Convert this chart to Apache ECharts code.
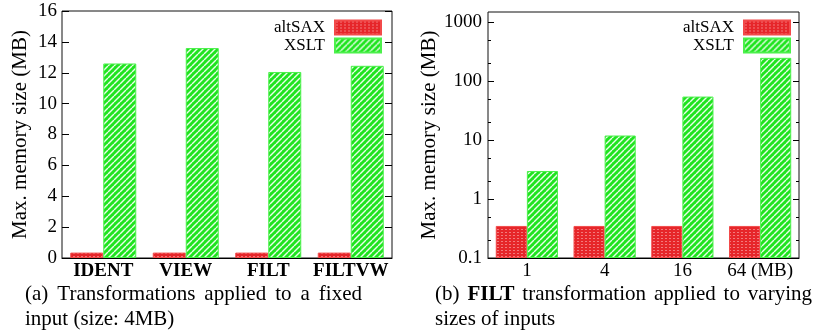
<!DOCTYPE html>
<html>
<head>
<meta charset="utf-8">
<script src="https://cdn.jsdelivr.net/npm/echarts@6/dist/echarts.min.js"></script>
<style>html,body{margin:0;padding:0;background:#fff}#c{width:818px;height:330px}</style>
</head>
<body>
<div id="c"></div>
<script>
// ---- data ----
const seriesNames = ['altSAX', 'XSLT'];
const catsA = ['IDENT', 'VIEW', 'FILT', 'FILTVW'];
const altSaxA = [0.35, 0.35, 0.35, 0.35];
const xsltA = [12.6, 13.6, 12.05, 12.45];
const catsB = ['1', '4', '16', '64 (MB)'];
const altSaxB = [0.35, 0.35, 0.35, 0.35];
const xsltB = [3.0, 12, 55, 250];
const yMajorB = [0.1, 1, 10, 100, 1000];
const yMinorB = [0.2, 0.5, 2, 5, 20, 50, 200, 500];
const yTitle = 'Max. memory size (MB)';

// ---- patterns ----
function stripePattern() {
  const n = 6, c = document.createElement('canvas');
  c.width = n; c.height = n;
  const g = c.getContext('2d');
  g.fillStyle = '#1fe41f'; g.fillRect(0, 0, n, n);
  g.strokeStyle = 'rgba(255,255,255,0.9)'; g.lineWidth = 1.4;
  for (const k of [-n, 0, n]) { g.beginPath(); g.moveTo(k, n); g.lineTo(k + n, 0); g.stroke(); }
  return { image: c, repeat: 'repeat' };
}
function dotPattern() {
  const c = document.createElement('canvas');
  c.width = 4; c.height = 3;
  const g = c.getContext('2d');
  g.fillStyle = '#e6262a'; g.fillRect(0, 0, 4, 3);
  g.fillStyle = '#f27a7c'; g.fillRect(1, 1, 2, 1);
  return { image: c, repeat: 'repeat' };
}
const redFill = dotPattern();
const greenFill = stripePattern();

const FONT = 'Liberation Serif';
const black = '#000';

function linAxis(grid, pos, showLabel) {
  return {
    type: 'value', gridIndex: grid, position: pos, min: 0, max: 16, interval: 2,
    axisLine: { show: false }, splitLine: { show: false },
    axisTick: { show: true, inside: true, length: 7, lineStyle: { color: black } },
    axisLabel: { show: showLabel, color: black, fontFamily: FONT, fontSize: 19, margin: 5 },
    name: showLabel ? yTitle : '', nameLocation: 'middle', nameGap: 31,
    nameTextStyle: { color: black, fontFamily: FONT, fontSize: 21 }
  };
}
function logAxis(pos, ticks, len, showLabel) {
  return {
    type: 'log', logBase: 10, gridIndex: 1, position: pos, min: 0.1, max: 1500, startValue: 0.1,
    axisLine: { show: false }, splitLine: { show: false }, minorTick: { show: false },
    axisTick: { show: true, inside: true, length: len, customValues: ticks, lineStyle: { color: black } },
    axisLabel: { show: showLabel, customValues: showLabel ? yMajorB : undefined, color: black, fontFamily: FONT, fontSize: 19, margin: 6,
      formatter: v => String(+(+v).toPrecision(6)) },
    name: showLabel ? yTitle : '', nameLocation: 'middle', nameGap: 47,
    nameTextStyle: { color: black, fontFamily: FONT, fontSize: 21 }
  };
}
function catAxis(grid, data, bold) {
  return {
    type: 'category', gridIndex: grid, data: data,
    axisLine: { show: true, lineStyle: { color: black } }, axisTick: { show: false },
    axisLabel: { color: black, fontFamily: FONT, fontSize: 19, fontWeight: bold ? 'bold' : 'normal', margin: 4, interval: 0 }
  };
}
function bar(name, xi, yi, data, fill, border) {
  return {
    name: name, type: 'bar', xAxisIndex: xi, yAxisIndex: yi, data: data,
    barWidth: '40%', barGap: '0%', animation: false,
    itemStyle: { color: fill, borderColor: border, borderWidth: 1 },
    emphasis: { disabled: true }
  };
}
function legend(right, top, name) {
  return {
    orient: 'vertical', right: right, top: top, padding: 0, align: 'right',
    itemWidth: 46, itemHeight: 14, itemGap: 0, icon: 'rect',
    data: [name], selectedMode: false,
    textStyle: { color: black, fontFamily: FONT, fontSize: 17, padding: [0, 5, 0, 0] }
  };
}

const chart = echarts.init(document.getElementById('c'), null, { renderer: 'canvas' });
chart.setOption({
  animation: false,
  backgroundColor: '#fff',
  grid: [
    { left: 62, top: 11, width: 330, height: 247, show: true, borderColor: '#111', borderWidth: 1, backgroundColor: 'transparent' },
    { left: 488, top: 12, width: 311, height: 246, show: true, borderColor: '#111', borderWidth: 1, backgroundColor: 'transparent' }
  ],
  xAxis: [catAxis(0, catsA, true), catAxis(1, catsB, false)],
  yAxis: [
    linAxis(0, 'left', true),
    linAxis(0, 'right', false),
    logAxis('left', yMajorB, 6, true),
    logAxis('left', yMinorB, 3, false),
    logAxis('right', yMajorB, 6, false),
    logAxis('right', yMinorB, 3, false)
  ],
  legend: [
    legend(818 - 382, 19, seriesNames[0]), legend(818 - 382, 37, seriesNames[1]),
    legend(818 - 791, 19, seriesNames[0]), legend(818 - 791, 37, seriesNames[1])
  ],
  series: [
    bar(seriesNames[0], 0, 0, altSaxA, redFill, '#f24a4a'),
    bar(seriesNames[1], 0, 0, xsltA, greenFill, '#4cf04c'),
    bar(seriesNames[0], 1, 2, altSaxB, redFill, '#f24a4a'),
    bar(seriesNames[1], 1, 2, xsltB, greenFill, '#4cf04c')
  ],
  graphic: [
    { type: 'text', left: 25, top: 284, silent: true,
      style: { text: '(a){s| }Transformations{s| }applied{s| }to{s| }a{s| }fixed', font: '21px "Liberation Serif"', fill: black,
        rich: { s: { width: 9, font: '21px "Liberation Serif"' } } } },
    { type: 'text', left: 25, top: 309, silent: true,
      style: { text: 'input (size: 4MB)', font: '21px "Liberation Serif"', fill: black } },
    { type: 'text', left: 435, top: 284, silent: true,
      style: { text: '(b){s| }{b|FILT}{s| }transformation{s| }applied{s| }to{s| }varying', font: '21px "Liberation Serif"', fill: black,
        rich: { s: { width: 7.9, font: '21px "Liberation Serif"' }, b: { font: 'bold 21px "Liberation Serif"', fill: black } } } },
    { type: 'text', left: 435, top: 309, silent: true,
      style: { text: 'sizes of inputs', font: '21px "Liberation Serif"', fill: black } }
  ]
});
</script>
</body>
</html>
